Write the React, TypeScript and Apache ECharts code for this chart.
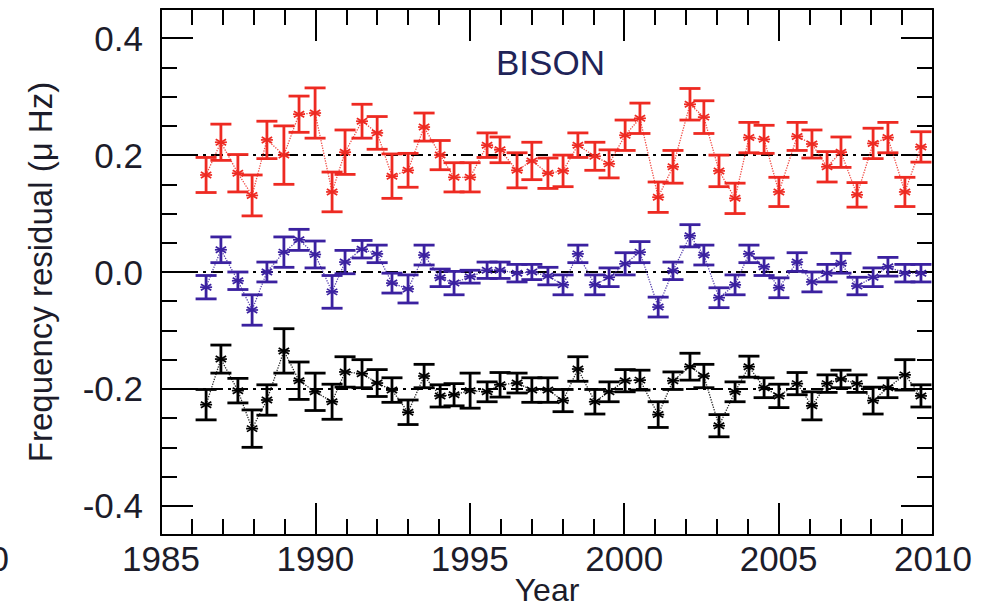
import React, { useEffect, useRef } from "react";
import * as echarts from "echarts";

// Observation epochs (years)
const years = [
  1986.46, 1986.94, 1987.49, 1987.95, 1988.43, 1988.98, 1989.47, 1989.99, 1990.54, 1990.96,
  1991.51, 1992.0, 1992.48, 1993.0, 1993.52, 1994.04, 1994.49, 1995.01, 1995.56, 1995.98,
  1996.53, 1997.01, 1997.53, 1998.02, 1998.5, 1999.05, 1999.51, 2000.03, 2000.51, 2001.1,
  2001.58, 2002.13, 2002.58, 2003.07, 2003.59, 2004.04, 2004.53, 2005.01, 2005.6, 2006.08,
  2006.57, 2007.02, 2007.54, 2008.06, 2008.54, 2009.09, 2009.61,
];

// Upper set (offset +0.2)
const redValues = [
  0.166, 0.222, 0.169, 0.131, 0.226, 0.2, 0.27, 0.272, 0.137, 0.205,
  0.258, 0.238, 0.164, 0.174, 0.248, 0.2, 0.162, 0.162, 0.217, 0.209,
  0.174, 0.19, 0.169, 0.173, 0.217, 0.198, 0.185, 0.234, 0.263, 0.128,
  0.18, 0.287, 0.265, 0.173, 0.126, 0.23, 0.227, 0.137, 0.232, 0.219,
  0.18, 0.205, 0.132, 0.22, 0.23, 0.137, 0.214,
];
const redErrors = [
  0.03, 0.031, 0.032, 0.035, 0.032, 0.05, 0.031, 0.043, 0.034, 0.038,
  0.029, 0.028, 0.038, 0.029, 0.024, 0.025, 0.025, 0.025, 0.021, 0.022,
  0.03, 0.032, 0.026, 0.027, 0.021, 0.024, 0.024, 0.026, 0.026, 0.026,
  0.028, 0.027, 0.028, 0.027, 0.026, 0.026, 0.024, 0.025, 0.024, 0.024,
  0.026, 0.026, 0.021, 0.026, 0.026, 0.025, 0.026,
];

// Middle set (no offset)
const blueValues = [
  -0.026, 0.038, -0.015, -0.065, 0.0, 0.034, 0.055, 0.03, -0.034, 0.017,
  0.039, 0.031, -0.019, -0.029, 0.029, -0.01, -0.019, -0.008, 0.003, 0.003,
  -0.002, 0.0, -0.007, -0.022, 0.031, -0.022, -0.009, 0.014, 0.034, -0.06,
  0.002, 0.062, 0.029, -0.044, -0.022, 0.031, 0.009, -0.027, 0.017, -0.017,
  -0.002, 0.015, -0.024, -0.009, 0.009, -0.002, -0.002,
];
const blueErrors = [
  0.02, 0.022, 0.015, 0.026, 0.017, 0.026, 0.018, 0.023, 0.028, 0.02,
  0.015, 0.015, 0.017, 0.024, 0.017, 0.015, 0.02, 0.011, 0.014, 0.014,
  0.015, 0.013, 0.015, 0.017, 0.015, 0.017, 0.016, 0.019, 0.018, 0.017,
  0.015, 0.019, 0.017, 0.017, 0.017, 0.015, 0.015, 0.017, 0.016, 0.017,
  0.015, 0.017, 0.015, 0.016, 0.016, 0.015, 0.015,
];

// Lower set (offset -0.2)
const blackValues = [
  -0.227, -0.149, -0.203, -0.268, -0.219, -0.135, -0.186, -0.205, -0.222, -0.171,
  -0.174, -0.19, -0.202, -0.24, -0.178, -0.212, -0.21, -0.203, -0.205, -0.193,
  -0.19, -0.202, -0.202, -0.22, -0.166, -0.222, -0.205, -0.186, -0.185, -0.244,
  -0.186, -0.162, -0.178, -0.263, -0.205, -0.162, -0.198, -0.212, -0.191, -0.229,
  -0.191, -0.183, -0.191, -0.22, -0.198, -0.176, -0.212,
];
const blackErrors = [
  0.026, 0.024, 0.021, 0.032, 0.026, 0.038, 0.032, 0.032, 0.03, 0.026,
  0.024, 0.023, 0.021, 0.021, 0.02, 0.019, 0.019, 0.03, 0.017, 0.021,
  0.017, 0.021, 0.021, 0.019, 0.021, 0.021, 0.017, 0.019, 0.017, 0.022,
  0.015, 0.023, 0.02, 0.019, 0.017, 0.018, 0.017, 0.02, 0.019, 0.024,
  0.015, 0.015, 0.015, 0.023, 0.017, 0.026, 0.019,
];

const referenceLevels = [0.2, 0, -0.2];
const yMajorTicks = [-0.4, -0.2, 0, 0.2, 0.4];
const yMinorTicks = [
  -0.45, -0.4, -0.35, -0.3, -0.25, -0.2, -0.15, -0.1, -0.05, 0,
  0.05, 0.1, 0.15, 0.2, 0.25, 0.3, 0.35, 0.4, 0.45,
];

const RED = "#ee2a22";
const BLUE = "#3b21a0";
const BLACK = "#000000";
const TEXT = "#1c1c2a";
const FONT = "'Liberation Sans', Arial, Helvetica, sans-serif";

function errorBarSeries(color: string, values: number[], errors: number[]) {
  const data = years.map((x, i) => [x, values[i], errors[i]]);
  return {
    type: "custom",
    z: 3,
    clip: false,
    encode: { x: 0, y: 1 },
    data,
    renderItem: (_params: any, api: any) => {
      const x = api.value(0);
      const y = api.value(1);
      const e = api.value(2);
      const c = api.coord([x, y]);
      const top = api.coord([x, y + e]);
      const bot = api.coord([x, y - e]);
      const cap = 10.5;
      const bar = { stroke: color, lineWidth: 2.8 };
      const star = { stroke: color, lineWidth: 1.7 };
      const r = 6;
      const dx = r * Math.cos(Math.PI / 6);
      const dy = r * Math.sin(Math.PI / 6);
      return {
        type: "group",
        children: [
          { type: "line", shape: { x1: c[0], y1: top[1], x2: c[0], y2: bot[1] }, style: bar },
          { type: "line", shape: { x1: c[0] - cap, y1: top[1], x2: c[0] + cap, y2: top[1] }, style: bar },
          { type: "line", shape: { x1: c[0] - cap, y1: bot[1], x2: c[0] + cap, y2: bot[1] }, style: bar },
          { type: "line", shape: { x1: c[0] - dx, y1: c[1] - dy, x2: c[0] + dx, y2: c[1] + dy }, style: star },
          { type: "line", shape: { x1: c[0] - dx, y1: c[1] + dy, x2: c[0] + dx, y2: c[1] - dy }, style: star },
          { type: "line", shape: { x1: c[0] - r, y1: c[1], x2: c[0] + r, y2: c[1] }, style: star },
        ],
      };
    },
  };
}

function connectSeries(color: string, values: number[], withRefs = false) {
  const s: any = {
    type: "line",
    z: 2,
    symbol: "none",
    data: years.map((x, i) => [x, values[i]]),
    lineStyle: { color, width: 1.3, type: "dotted", opacity: 0.85 },
  };
  if (withRefs) {
    s.markLine = {
      silent: true,
      symbol: "none",
      z: 1,
      label: { show: false },
      lineStyle: { color: "#000", width: 2, type: [12, 5, 3, 5], opacity: 1 },
      data: referenceLevels.map((v) => ({ yAxis: v })),
    };
  }
  return s;
}

const axisLineStyle = { color: "#000", width: 2 };

function xAxisDef(position: "bottom" | "top") {
  const bottom = position === "bottom";
  return {
    type: "value",
    position,
    min: 1985,
    max: 2010,
    interval: 5,
    axisLine: { show: true, onZero: false, lineStyle: axisLineStyle },
    axisTick: { show: true, inside: true, length: 32, lineStyle: axisLineStyle },
    minorTick: { show: true, splitNumber: 5, length: 16, lineStyle: axisLineStyle },
    splitLine: { show: false },
    minorSplitLine: { show: false },
    axisLabel: {
      show: bottom,
      fontSize: 35,
      fontFamily: FONT,
      color: TEXT,
      margin: 6,
      formatter: (v: number) => String(v),
    },
    name: bottom ? "Year" : "",
    nameLocation: "middle",
    nameGap: 39,
    nameMoveOverlap: false,
    nameTextStyle: { fontSize: 32, fontFamily: FONT, color: TEXT },
  };
}

function yAxisDef(position: "left" | "right", major: boolean) {
  const showLabel = major && position === "left";
  return {
    type: "value",
    position,
    min: -0.45,
    max: 0.45,
    axisLine: { show: major, onZero: false, lineStyle: axisLineStyle },
    axisTick: {
      show: true,
      inside: true,
      length: major ? 32 : 16,
      customValues: major ? yMajorTicks : yMinorTicks,
      lineStyle: axisLineStyle,
    },
    splitLine: { show: false },
    axisLabel: {
      show: showLabel,
      customValues: yMajorTicks,
      fontSize: 35,
      fontFamily: FONT,
      color: TEXT,
      margin: 18,
      formatter: (v: number) => v.toFixed(1),
    },
    name: showLabel ? "Frequency residual (\u03bc Hz)" : "",
    nameLocation: "middle",
    nameGap: 104,
    nameRotate: 90,
    nameTextStyle: { fontSize: 33, fontFamily: FONT, color: TEXT },
  };
}

export default function App() {
  const ref = useRef<HTMLDivElement>(null);

  useEffect(() => {
    if (!ref.current) return;
    const chart = echarts.init(ref.current, null, { renderer: "svg" });
    chart.setOption({
      animation: false,
      backgroundColor: "#ffffff",
      grid: {
        left: 161,
        right: 67,
        top: 9,
        bottom: 74,
        containLabel: false,
        outerBoundsMode: "none",
      },
      xAxis: [xAxisDef("bottom"), xAxisDef("top")],
      yAxis: [
        yAxisDef("left", true),
        yAxisDef("right", true),
        yAxisDef("left", false),
        yAxisDef("right", false),
      ],
      graphic: [
        {
          type: "text",
          left: 496,
          top: 45,
          style: { text: "BISON", fontSize: 35, fontFamily: FONT, fill: "#1f2458" },
        },
        {
          type: "text",
          x: 9,
          y: 558,
          style: {
            text: "2010",
            fontSize: 35,
            fontFamily: FONT,
            fill: TEXT,
            align: "right",
            verticalAlign: "middle",
          },
        },
      ],
      series: [
        connectSeries(RED, redValues, true),
        connectSeries(BLUE, blueValues),
        connectSeries(BLACK, blackValues),
        errorBarSeries(RED, redValues, redErrors),
        errorBarSeries(BLUE, blueValues, blueErrors),
        errorBarSeries(BLACK, blackValues, blackErrors),
      ],
    });
    return () => chart.dispose();
  }, []);

  return (
    <div
      ref={ref}
      style={{ position: "absolute", left: 0, top: 0, width: 1000, height: 609, overflow: "hidden" }}
    />
  );
}
